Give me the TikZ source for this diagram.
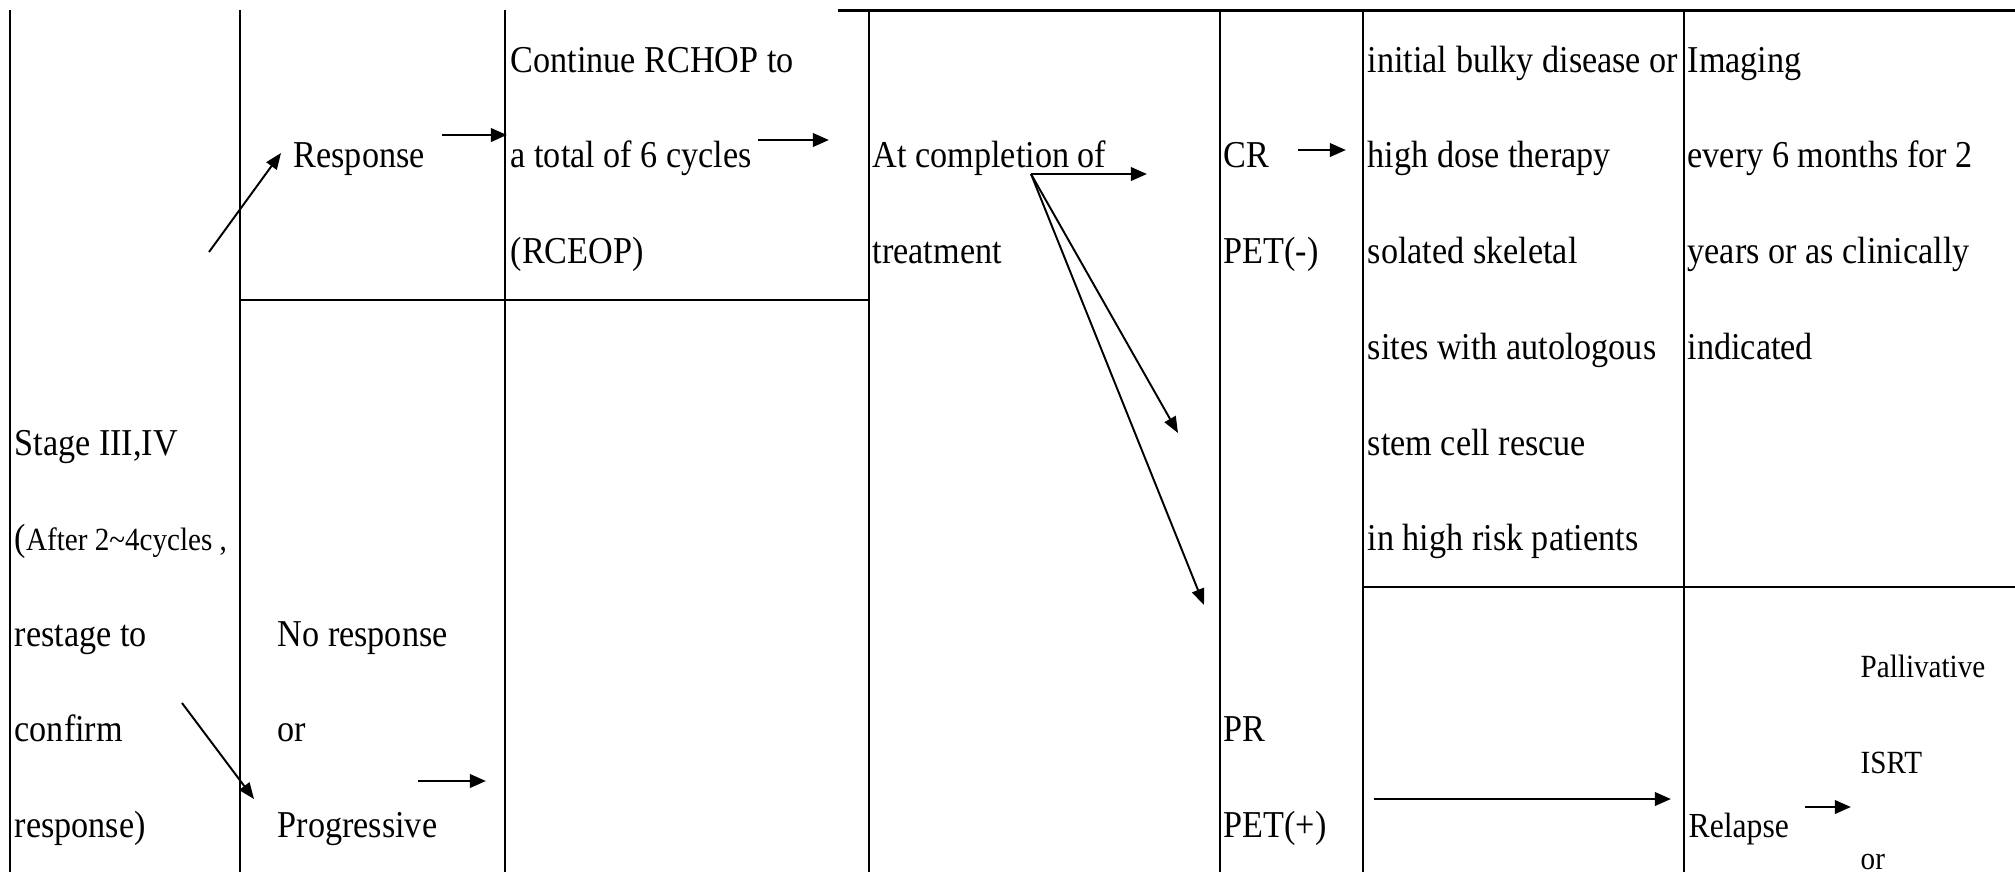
\documentclass[tikz,border=0pt]{standalone}
\usepackage{fontspec}
\setmainfont[FakeStretch=0.9]{Liberation Serif}
\usetikzlibrary{arrows.meta, positioning}

\begin{document}
\begin{tikzpicture}[x=0.01cm, y=-0.01cm,
  rule/.style={line width=0.65pt},
  toprule/.style={line width=0.85pt},
  txt/.style={anchor=base west, inner sep=0pt, font=\fontsize{10.8}{13}\selectfont},
  smalltxt/.style={txt, font=\fontsize{10}{12}\selectfont},
  tinytxt/.style={txt, font=\fontsize{9.2}{11}\selectfont},
  arr/.style={line width=0.8pt, -{Triangle[length=4.6pt, width=3.8pt]}},
  slant/.style={line width=0.55pt, -{Triangle[length=4.6pt, width=3.6pt]}}]
  \useasboundingbox (0,0) rectangle (2015,872);

  % Table rules
  \draw[toprule] (838,10) -- (2015,10);
  \foreach \x in {10, 240, 505, 869, 1220, 1363, 1684}
    \draw[rule] (\x,10) -- (\x,872);
  \draw[rule] (240,300) -- (869,300);
  \draw[rule] (1363,587) -- (2015,587);

  % Stage column
  \node[txt] (stage) at (14,455) {Stage III,IV};
  \node[txt] (after) at (14,550) {({\fontsize{9.2}{11}\selectfont After 2\textasciitilde 4cycles ,}};
  \node[txt] (restage) at (14,646) {restage to};
  \node[txt] (confirm) at (14,741) {confirm};
  \node[txt] (respclose) at (14,837) {response)};

  % Response / no response
  \node[txt] (resp) at (293,167) {Response};
  \node[txt] (nores) at (277,646) {No response};
  \node[txt] (noresor) at (277,741) {or};
  \node[txt] (prog) at (277,837) {Progressive};

  % Continue RCHOP
  \node[txt] (cont1) at (510,72) {Continue RCHOP to};
  \node[txt] (cont2) at (510,167) {a total of 6 cycles};
  \node[txt] (cont3) at (510,263) {(RCEOP)};

  % Completion
  \node[txt] (compl1) at (872,167) {At completion of};
  \node[txt] (compl2) at (872,263) {treatment};

  % CR / PR
  \node[txt] (cr) at (1223,167) {CR};
  \node[txt] (petneg) at (1223,263) {PET(-)};
  \node[txt] (pr) at (1223,741) {PR};
  \node[txt] (petpos) at (1223,837) {PET(+)};

  % High dose therapy
  \node[txt] (hd1) at (1367,72) {initial bulky disease or};
  \node[txt] (hd2) at (1367,167) {high dose therapy};
  \node[txt] (hd3) at (1367,263) {solated skeletal};
  \node[txt] (hd4) at (1367,359) {sites with autologous};
  \node[txt] (hd5) at (1367,455) {stem cell rescue};
  \node[txt] (hd6) at (1367,550) {in high risk patients};

  % Imaging
  \node[txt] (img1) at (1687,72) {Imaging};
  \node[txt] (img2) at (1687,167) {every 6 months for 2};
  \node[txt] (img3) at (1687,263) {years or as clinically};
  \node[txt] (img4) at (1687,359) {indicated};

  % Relapse
  \node[smalltxt] (relapse) at (1688,837) {Relapse};
  \node[tinytxt] (pal) at (1860,677) {Pallivative};
  \node[tinytxt] (isrt) at (1860,773) {ISRT};
  \node[tinytxt] (palor) at (1860,869) {or};

  % Arrow ends
  \coordinate (upfrom) at (209,252);
  \coordinate (upto) at (281,153);
  \coordinate (downfrom) at (182,703);
  \coordinate (downto) at (254,799);
  \coordinate (respfrom) at (442,135);
  \coordinate (respto) at (507,135);
  \coordinate (progfrom) at (418,781);
  \coordinate (progto) at (486,781);
  \coordinate (contfrom) at (758,140);
  \coordinate (contto) at (829,140);
  \coordinate (split) at (1031,174);
  \coordinate (splitcr) at (1147,174);
  \coordinate (splitmid) at (1178,433);
  \coordinate (splitpr) at (1204,605);
  \coordinate (crfrom) at (1298,150);
  \coordinate (crto) at (1346,150);
  \coordinate (prfrom) at (1374,799);
  \coordinate (prto) at (1671,799);
  \coordinate (relfrom) at (1805,807);
  \coordinate (relto) at (1851,807);

  % Arrows
  \draw[slant] (upfrom) -- (upto);
  \draw[slant] (downfrom) -- (downto);
  \draw[arr] (respfrom) -- (respto);
  \draw[arr] (progfrom) -- (progto);
  \draw[arr] (contfrom) -- (contto);
  \draw[arr] (split) -- (splitcr);
  \draw[slant] (split) -- (splitmid);
  \draw[slant] (split) -- (splitpr);
  \draw[arr] (crfrom) -- (crto);
  \draw[arr] (prfrom) -- (prto);
  \draw[arr] (relfrom) -- (relto);
\end{tikzpicture}
\end{document}
